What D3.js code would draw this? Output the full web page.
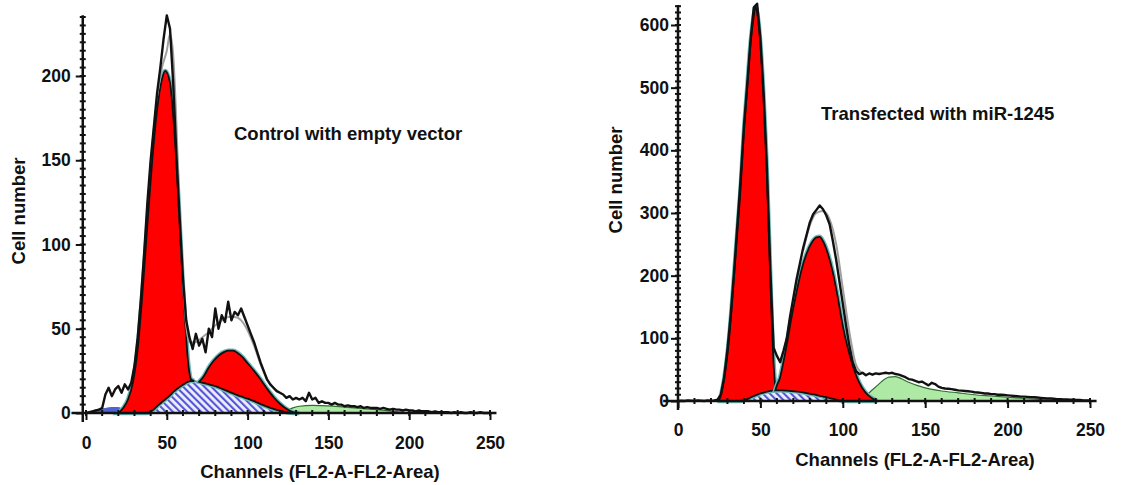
<!DOCTYPE html>
<html>
<head>
<meta charset="utf-8">
<script src="https://cdn.jsdelivr.net/npm/d3@7"></script>
<style>
  body { margin: 0; background: #fff; }
  svg text { font-family: "Liberation Sans", Arial, sans-serif; font-weight: bold; fill: #111; }
</style>
</head>
<body>
<svg id="chart" width="1139" height="485"></svg>
<script>
/* globals d3 */

// ---- shared ----
var xTicks = [0, 50, 100, 150, 200, 250];
var xTitle = 'Channels (FL2-A-FL2-Area)';
var yTitle = 'Cell number';

// measured histogram channels (both panels)
var histCh = [
  0, 2, 4, 6, 8, 10, 12, 14, 16, 18,
  20, 22, 24, 26, 28, 30, 32, 34, 36, 38,
  40, 42, 44, 46, 48, 50, 52, 54, 56, 58,
  60, 62, 64, 66, 68, 70, 72, 74, 76, 78,
  80, 82, 84, 86, 88, 90, 92, 94, 96, 98,
  100, 102, 104, 106, 108, 110, 112, 114, 116, 118,
  120, 122, 124, 126, 128, 130, 132, 134, 136, 138,
  140, 142, 144, 146, 148, 150, 152, 154, 156, 158,
  160, 162, 164, 166, 168, 170, 172, 174, 176, 178,
  180, 182, 184, 186, 188, 190, 192, 194, 196, 198,
  200, 202, 204, 206, 208, 210, 212, 214, 216, 218,
  220, 222, 224, 226, 228, 230, 232, 234, 236, 238,
  240, 242, 244, 246, 248, 250
];

// ---- left: control with empty vector ----
var leftNote = 'Control with empty vector';
var leftYTicks = [0, 50, 100, 150, 200];

var leftHist = [
  0, 0.5, 1, 1.5, 2, 3, 11, 15, 10, 14,
  16, 12, 17, 14, 18, 28, 45, 68, 95, 125,
  150, 170, 190, 205, 222, 236, 228, 195, 152, 115,
  80, 55, 45, 38, 47, 40, 44, 36, 50, 45,
  62, 50, 58, 54, 66, 55, 60, 58, 62, 57,
  52, 47, 42, 36, 30, 25, 20, 17, 15, 13,
  12, 11, 9, 10, 8, 9, 8, 9, 7, 12,
  8, 9, 6, 7, 6, 6, 5, 6, 5, 5,
  4, 4.5, 4, 4, 3.5, 4, 3, 3.5, 3, 3,
  3, 2.5, 3, 2.5, 2, 2.5, 2, 2, 1.5, 2,
  1.5, 1.5, 1, 1.5, 1, 1, 1, 0.5, 1, 0.5,
  0.5, 0.5, 0.5, 0, 0.5, 0, 0.5, 0, 0, 0.5,
  0, 0, 0.5, 0, 0, 0
];

var leftFitCh = [
  0, 4, 8, 12, 16, 20,
  23, 26, 29, 32, 35, 38,
  41, 44, 47, 49, 52, 54,
  56, 58, 60, 62, 63, 64,
  65, 67, 70, 73, 76, 79,
  82, 85, 88, 91, 94, 97,
  100, 104, 108, 112, 116, 120,
  124, 128, 132, 140, 150, 160,
  170, 180, 190, 200, 210, 250
];
var leftDebris = [
  0, 1.5, 2.5, 3, 3.5, 3.5,
  2.5, 1.5, 0.5, 0, 0, 0,
  0, 0, 0, 0, 0, 0,
  0, 0, 0, 0, 0, 0,
  0, 0, 0, 0, 0, 0,
  0, 0, 0, 0, 0, 0,
  0, 0, 0, 0, 0, 0,
  0, 0, 0, 0, 0, 0,
  0, 0, 0, 0, 0, 0
];
var leftS = [
  0, 0, 0, 0, 0, 0,
  0, 0, 0, 0, 0, 0,
  1.5, 4, 6.5, 8, 10.5, 12.5,
  14, 15.5, 16.8, 18, 18.5, 18.8,
  19, 19, 18.5, 17.8, 17, 16.2,
  15.2, 14, 12.8, 11.6, 10.5, 9.5,
  8.5, 7, 5.3, 3.8, 2.5, 1.4,
  0.5, 0, 0, 0, 0, 0,
  0, 0, 0, 0, 0, 0
];
var leftG1 = [
  0, 0, 0, 0, 0, 0,
  3, 8, 18, 38, 72, 112,
  148.5, 176, 191.5, 195, 185.5, 163.5,
  134, 96.5, 58, 27, 13.5, 5,
  1, 0, 0, 0, 0, 0,
  0, 0, 0, 0, 0, 0,
  0, 0, 0, 0, 0, 0,
  0, 0, 0, 0, 0, 0,
  0, 0, 0, 0, 0, 0
];
var leftG2 = [
  0, 0, 0, 0, 0, 0,
  0, 0, 0, 0, 0, 0,
  0, 0, 0, 0, 0, 0,
  0, 0, 0, 0, 0, 0,
  0, 0, 0, 4.2, 10, 14.8,
  18.8, 22, 24.2, 25.4, 25, 23.5,
  21, 18, 14.7, 10.7, 7, 4.1,
  2, 0.5, 0, 0, 0, 0,
  0, 0, 0, 0, 0, 0
];
var leftAggr = [
  0, 0, 0, 0, 0, 0,
  0, 0, 0, 0, 0, 0,
  0, 0, 0, 0, 0, 0,
  0, 0, 0, 0, 0, 0,
  0, 0, 0, 0, 0, 0,
  0, 0, 0, 0, 0, 0,
  0, 0, 0, 0, 0, 0,
  1.5, 3, 4, 4.5, 4.2, 3.5,
  2.8, 2, 1, 0.3, 0, 0
];
var leftGreyCh = [44, 47, 50, 52, 54, 56, 58, 60, 62, 64, 68, 72, 76, 80, 84, 88, 92, 96, 100, 104, 108, 112, 116, 120];
var leftGrey = [188, 205, 215, 225, 212, 170, 118, 78, 52, 42, 42, 45, 48, 52, 55, 57, 57, 55, 49, 40, 29, 20, 15, 12];

// ---- right: transfected with miR-1245 ----
var rightNote = 'Transfected with miR-1245';
var rightYTicks = [0, 100, 200, 300, 400, 500, 600];

var rightHist = [
  0, 0.5, 0, 1, 0.5, 0, 1, 0.5, 0, 1,
  0.5, 1, 2, 10, 38, 82, 138, 205, 280, 355,
  438, 505, 575, 628, 634, 578, 488, 368, 210, 85,
  72, 62, 80, 100, 135, 165, 195, 220, 245, 265,
  285, 298, 305, 312, 306, 296, 282, 255, 225, 190,
  155, 120, 88, 62, 48, 43, 45, 41, 44, 42,
  44, 43, 44, 45, 44, 45, 43, 42, 40, 38,
  35, 34, 32, 30, 31, 28, 25, 29, 27, 23,
  21, 20, 19.5, 19, 18, 17, 16.5, 16, 15.5, 15,
  14, 13.5, 13, 12, 12, 11, 11, 10, 10, 9.5,
  9, 8.5, 8, 7.5, 7, 7, 6.5, 6, 6, 5.5,
  5, 4.5, 4, 4, 3.5, 3, 3, 2.5, 2.5, 2,
  2, 1.5, 1.5, 1, 1, 1
];

var rightFitCh = [
  0, 10, 20, 24, 25, 28,
  31, 34, 36, 38, 40, 42,
  44, 46, 47, 48, 50, 52,
  54, 55, 56, 57, 58, 59,
  60, 62, 63, 66, 69, 72,
  75, 78, 81, 84, 86, 88,
  91, 94, 97, 100, 103, 106,
  109, 112, 115, 118, 121, 124,
  128, 132, 136, 140, 145, 150,
  160, 170, 180, 190, 200, 210,
  220, 230, 240, 250
];
var rightS = [
  0, 0, 0, 0, 0, 0,
  0, 0, 0, 0, 1.5, 3,
  5.5, 8, 9, 10, 12, 13.5,
  15, 15.5, 16, 16.3, 16.5, 16.8,
  17, 17, 17, 16.5, 15.8, 15,
  14, 12.5, 11, 9.5, 8.3, 7,
  5.3, 3.5, 1.8, 0.6, 0, 0,
  0, 0, 0, 0, 0, 0,
  0, 0, 0, 0, 0, 0,
  0, 0, 0, 0, 0, 0,
  0, 0, 0, 0
];
var rightG1 = [
  0, 0, 0, 0, 2, 35,
  100, 200, 270, 340, 428.5, 497,
  564.5, 607, 620, 610, 558, 466.5,
  345, 264.5, 184, 103.7, 43.5, 8.2,
  0, 0, 0, 0, 0, 0,
  0, 0, 0, 0, 0, 0,
  0, 0, 0, 0, 0, 0,
  0, 0, 0, 0, 0, 0,
  0, 0, 0, 0, 0, 0,
  0, 0, 0, 0, 0, 0,
  0, 0, 0, 0
];
var rightG2 = [
  0, 0, 0, 0, 0, 0,
  0, 0, 0, 0, 0, 0,
  0, 0, 0, 0, 0, 0,
  0, 0, 0, 0, 0, 0,
  8, 21, 33, 73.5, 119.2, 160,
  196, 222.5, 241, 251.5, 253.7, 248,
  229.7, 201.5, 163.2, 119.4, 85, 57,
  35, 20, 10, 4, 0, 0,
  0, 0, 0, 0, 0, 0,
  0, 0, 0, 0, 0, 0,
  0, 0, 0, 0
];
var rightAggr = [
  0, 0, 0, 0, 0, 0,
  0, 0, 0, 0, 0, 0,
  0, 0, 0, 0, 0, 0,
  0, 0, 0, 0, 0, 0,
  0, 0, 0, 0, 0, 0,
  0, 0, 0, 0, 0, 0,
  0, 0, 0, 0, 0, 0,
  1.5, 5, 11, 18, 25, 32,
  38, 39, 35, 30, 25, 21,
  16, 13, 10, 8, 6, 4,
  2.5, 1, 0.3, 0
];
var rightGreyCh = [76, 80, 84, 88, 92, 96, 100, 104, 108, 112];
var rightGrey = [240, 280, 300, 303, 290, 250, 180, 110, 58, 44];

var svg = d3.select('#chart');

// hatch for S phase
var pat = svg.append('defs').append('pattern')
  .attr('id', 'hatch')
  .attr('patternUnits', 'userSpaceOnUse')
  .attr('width', 5).attr('height', 5)
  .attr('patternTransform', 'rotate(-45)');
pat.append('rect').attr('width', 5).attr('height', 5).attr('fill', '#eceeff');
pat.append('line')
  .attr('x1', 1).attr('y1', 0).attr('x2', 1).attr('y2', 5)
  .attr('stroke', '#5656d4').attr('stroke-width', 2.2);

drawPanel({
  xRange: [86, 490], axisCh: -2, yMax: 200, yRange: [413, 76], yTop: 236, yMinor: 5,
  yTicks: leftYTicks, yPad: 5, xPad: 17,
  ch: leftFitCh, s: leftS, g1: leftG1, g2: leftG2, deb: leftDebris, agg: leftAggr,
  hist: leftHist, greyCh: leftGreyCh, grey: leftGrey,
  xTitle: [320, 478], yTitle: [25, 211], note: leftNote, notePos: [234, 140]
});

drawPanel({
  xRange: [678, 1090], axisCh: 0, yMax: 600, yRange: [401, 25], yTop: 632, yMinor: 10,
  yTicks: rightYTicks, yPad: 2, xPad: 16,
  ch: rightFitCh, s: rightS, g1: rightG1, g2: rightG2, deb: null, agg: rightAggr,
  hist: rightHist, greyCh: rightGreyCh, grey: rightGrey,
  xTitle: [915, 466], yTitle: [622, 180], note: rightNote, notePos: [821, 120]
});

function drawPanel(p) {
  var g = svg.append('g');
  var x = d3.scaleLinear().domain([0, 250]).range(p.xRange);
  var y = d3.scaleLinear().domain([0, p.yMax]).range(p.yRange);

  var pts = p.ch.map(function (c, i) {
    return { c: c, s: p.s[i], g1: p.g1[i], g2: p.g2[i],
      deb: p.deb ? p.deb[i] : 0, agg: p.agg[i] };
  });

  // area of one component, either from baseline or stacked on S phase
  function compArea(key, stacked) {
    var v = pts.map(function (d) { return d[key]; });
    return d3.area()
      .defined(function (d, i) { return v[i] > 0 || v[i - 1] > 0 || v[i + 1] > 0; })
      .curve(d3.curveMonotoneX)
      .x(function (d) { return x(d.c); })
      .y0(function (d) { return y(stacked ? d.s : 0); })
      .y1(function (d) { return y((stacked ? d.s : 0) + d[key]); });
  }

  if (p.deb) {
    g.append('path').datum(pts).attr('d', compArea('deb', false))
      .attr('fill', '#4f62d2');
  }
  g.append('path').datum(pts).attr('d', compArea('agg', false))
    .attr('fill', '#aeeaa6').attr('stroke', '#2f6e2f').attr('stroke-width', 1.2);
  g.append('path').datum(pts).attr('d', compArea('s', false))
    .attr('fill', 'url(#hatch)').attr('stroke', '#22224a').attr('stroke-width', 1);

  ['g1', 'g2'].forEach(function (k) {
    var a = compArea(k, true);
    g.append('path').datum(pts).attr('d', a)
      .attr('fill', 'none').attr('stroke', '#6cb8b8').attr('stroke-width', 4.5);
    g.append('path').datum(pts).attr('d', a)
      .attr('fill', '#ff0000').attr('stroke', '#111').attr('stroke-width', 1.8);
  });

  // grey model line
  g.append('path')
    .datum(p.greyCh.map(function (c, i) { return [c, p.grey[i]]; }))
    .attr('d', d3.line().curve(d3.curveMonotoneX)
      .x(function (d) { return x(d[0]); }).y(function (d) { return y(d[1]); }))
    .attr('fill', 'none').attr('stroke', '#a0a0a0').attr('stroke-width', 2);

  // measured histogram
  g.append('path')
    .datum(histCh.map(function (c, i) { return [c, p.hist[i]]; }))
    .attr('d', d3.line()
      .x(function (d) { return x(d[0]); }).y(function (d) { return y(d[1]); }))
    .attr('fill', 'none').attr('stroke', '#111').attr('stroke-width', 2.4)
    .attr('stroke-linejoin', 'round');

  // axes
  var x0 = x(p.axisCh), y0 = y(0);
  g.append('line')
    .attr('x1', x0).attr('x2', x0).attr('y1', y0 + 9).attr('y2', y(p.yTop))
    .attr('stroke', '#111').attr('stroke-width', 2.5);
  g.append('line')
    .attr('x1', x(-9)).attr('x2', x(254)).attr('y1', y0).attr('y2', y0)
    .attr('stroke', '#111').attr('stroke-width', 2.5);

  g.selectAll('.ymin').data(d3.range(0, p.yTop, p.yMinor)).enter().append('line')
    .attr('x1', x0 - 3).attr('x2', x0 + 3)
    .attr('y1', function (d) { return y(d); }).attr('y2', function (d) { return y(d); })
    .attr('stroke', '#111').attr('stroke-width', 2);
  g.selectAll('.xmin').data(d3.range(0, 251, 10)).enter().append('line')
    .attr('x1', function (d) { return x(d); }).attr('x2', function (d) { return x(d); })
    .attr('y1', y0 - 3).attr('y2', y0 + 3)
    .attr('stroke', '#111').attr('stroke-width', 2);

  var ya = g.append('g').attr('transform', 'translate(' + x0 + ',0)')
    .call(d3.axisLeft(y).tickValues(p.yTicks).tickSize(7).tickPadding(p.yPad));
  var xa = g.append('g').attr('transform', 'translate(0,' + y0 + ')')
    .call(d3.axisBottom(x).tickValues(xTicks).tickSize(7).tickPadding(p.xPad));
  [ya, xa].forEach(function (a) {
    a.select('.domain').remove();
    a.selectAll('line').attr('stroke', '#111').attr('stroke-width', 2);
    a.selectAll('text').attr('font-size', 17.5).attr('font-family', null);
  });

  g.append('text').attr('x', p.xTitle[0]).attr('y', p.xTitle[1])
    .attr('text-anchor', 'middle').attr('font-size', 18.5).text(xTitle);
  g.append('text')
    .attr('transform', 'translate(' + p.yTitle[0] + ',' + p.yTitle[1] + ') rotate(-90)')
    .attr('text-anchor', 'middle').attr('font-size', 18.5).text(yTitle);
  g.append('text').attr('x', p.notePos[0]).attr('y', p.notePos[1])
    .attr('font-size', 18.5).text(p.note);
}
</script>
</body>
</html>
